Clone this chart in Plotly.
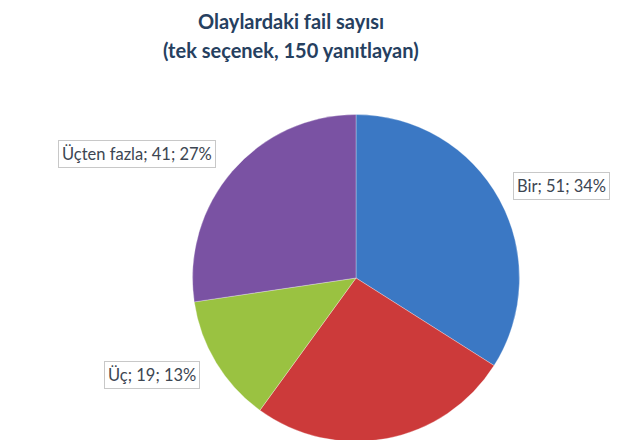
import plotly.graph_objects as go

# ===== data =====
labels = ["Bir", "İki", "Üç", "Üçten fazla"]
values = [51, 39, 19, 41]
colors = ["#3b78c4", "#cc3a3a", "#9ac241", "#7a52a3"]

title_lines = ["Olaylardaki fail sayısı", "(tek seçenek, 150 yanıtlayan)"]

total = sum(values)
texts = [f"{l}; {v}; {round(100 * v / total)}%" for l, v in zip(labels, values)]

W, H = 637, 440
OFF = 8  # page body margin

# label box centres in screen pixels; İki label is below the visible area
label_pos = [(561, 186), (356, 480), (152, 375), (137, 154)]

# pie centre / radius in screen pixels
cx, cy, r = 356 - OFF, 278 - OFF, 163.5

pie = go.Pie(
    labels=labels,
    values=values,
    sort=False,
    direction="clockwise",
    rotation=0,
    marker=dict(colors=colors, line=dict(color="rgba(255,255,255,0.5)", width=0.6)),
    textinfo="none",
    hoverinfo="skip",
    domain=dict(x=[(cx - r) / W, (cx + r) / W],
                y=[(H - cy - r) / H, (H - cy + r) / H]),
)

fig = go.Figure(pie)

for t, (px, py) in zip(texts, label_pos):
    if py > H:
        continue
    fig.add_annotation(
        x=(px - OFF) / W, y=1 - (py - OFF) / H, xref="paper", yref="paper",
        xanchor="center", yanchor="middle",
        text=t, showarrow=False,
        font=dict(family="Lato", size=16.5, color="#3d4652"),
        bgcolor="white", bordercolor="#c8c8c8", borderwidth=1, borderpad=3,
    )

for i, line in enumerate(title_lines):
    fig.add_annotation(
        x=(291 - OFF) / W, y=1 - (21 + 29 * i - OFF) / H, xref="paper", yref="paper",
        xanchor="center", yanchor="middle",
        text=f"<b>{line}</b>", showarrow=False, borderpad=0,
        font=dict(family="Lato", size=20, color="#26405f"),
    )

fig.update_layout(
    width=W, height=H,
    margin=dict(l=0, r=0, t=0, b=0),
    paper_bgcolor="white",
    showlegend=False,
)

fig.write_html("out.html")
